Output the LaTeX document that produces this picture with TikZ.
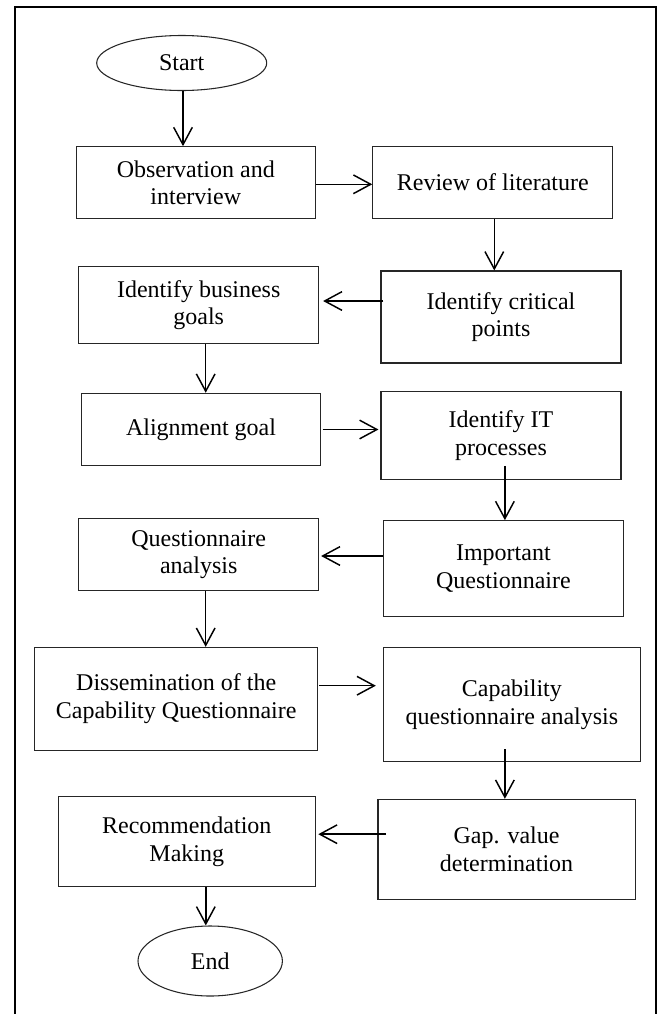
\documentclass[tikz,border=0pt]{standalone}
\usepackage{fontspec}
\setmainfont{Liberation Serif}
\usetikzlibrary{arrows.meta,calc,shapes.geometric}
\begin{document}
\begin{tikzpicture}[x=0.75pt,y=-0.75pt,
  box/.style={draw=black!85, line width=0.8pt, rectangle, align=center,
    font=\fontsize{18}{20.5}\selectfont, inner sep=0pt},
  oval/.style={draw=black!85, ellipse, line width=0.8pt,
    font=\fontsize{18}{20.5}\selectfont, inner sep=0pt},
  arr/.style={-{Straight Barb[length=13pt,width=14pt]}, line width=1.1pt}
]
\useasboundingbox (0,0) rectangle (664,1014);
\draw[line width=1.6pt] (15,1014) -- (15,7) -- (656,7) -- (656,1014);

\node[oval, minimum width=127.5pt, minimum height=41.25pt] (start) at (181.7,63) {Start};
\node[box, minimum width=179.6pt, minimum height=53.7pt] (obs) at (195.8,182.5) {Observation and\\interview};
\node[box, minimum width=180pt, minimum height=53.7pt] (rev) at (492.8,182.5) {Review of literature};
\node[box, minimum width=179.8pt, minimum height=57.5pt] (bus) at (198.7,305) {Identify business\\goals};
\node[box, minimum width=180pt, minimum height=69pt] (crit) at (501,317) {Identify critical\\points};
\node[box, minimum width=179.5pt, minimum height=54.3pt] (align) at (201,429.5) {Alignment goal};
\node[box, minimum width=180pt, minimum height=65.7pt] (itp) at (501,435.5) {Identify IT\\processes};
\node[box, minimum width=179.8pt, minimum height=54.3pt] (qa) at (198.7,554.5) {Questionnaire\\analysis};
\node[box, minimum width=180pt, minimum height=72pt] (imp) at (503.4,568.7) {Important\\Questionnaire};
\node[box, minimum width=212.3pt, minimum height=77pt] (diss) at (176.2,698.7) {Dissemination of the\\Capability Questionnaire};
\node[box, minimum width=192.8pt, minimum height=85.7pt] (cap) at (511.9,704.8) {Capability\\questionnaire analysis};
\node[box, minimum width=193.1pt, minimum height=67.5pt] (rec) at (186.8,841.7) {Recommendation\\Making};
\node[box, minimum width=192.8pt, minimum height=74.8pt] (gap) at (506.5,849.2) {Gap. value\\determination};
\node[oval, minimum width=108.3pt, minimum height=52.5pt] (end) at (210.2,961) {End};

\coordinate (a1) at ($(start.south)+(1.3,0)$);
\draw[arr] (a1) -- (a1 |- obs.north);
\coordinate (a2) at ($(obs.east)+(0,1.8)$);
\draw[arr] (a2) -- (a2 -| rev.west);
\coordinate (a3) at ($(rev.south)+(1.5,0)$);
\draw[arr] (a3) -- (a3 |- crit.north);
\coordinate (a4) at ($(crit.west)+(3,-16)$);
\draw[arr] (a4) -- ($(a4 -| bus.east)+(4,0)$);
\coordinate (a5) at ($(bus.south)+(7,0)$);
\draw[arr] (a5) -- (a5 |- align.north);
\coordinate (a6) at ($(align.east)+(1.5,0)$);
\draw[arr] (a6) -- ($(a6 -| itp.west)+(-2,0)$);
\coordinate (a7) at ($(itp.south)+(3.9,-14)$);
\draw[arr] (a7) -- (a7 |- imp.north);
\coordinate (a8) at ($(imp.west)+(0,-12.7)$);
\draw[arr] (a8) -- ($(a8 -| qa.east)+(2,0)$);
\coordinate (a9) at ($(qa.south)+(7,0)$);
\draw[arr] (a9) -- (a9 |- diss.north);
\coordinate (a10) at ($(diss.east)+(0.8,-13)$);
\draw[arr] (a10) -- ($(a10 -| cap.west)+(-7,0)$);
\coordinate (a11) at ($(cap.south)+(-7,-13)$);
\draw[arr] (a11) -- (a11 |- gap.north);
\coordinate (a12) at ($(gap.west)+(8.7,-15)$);
\draw[arr] (a12) -- ($(a12 -| rec.east)+(2.2,0)$);
\coordinate (a13) at ($(rec.south)+(19,0)$);
\draw[arr] (a13) -- (a13 |- end.north);
\end{tikzpicture}
\end{document}
